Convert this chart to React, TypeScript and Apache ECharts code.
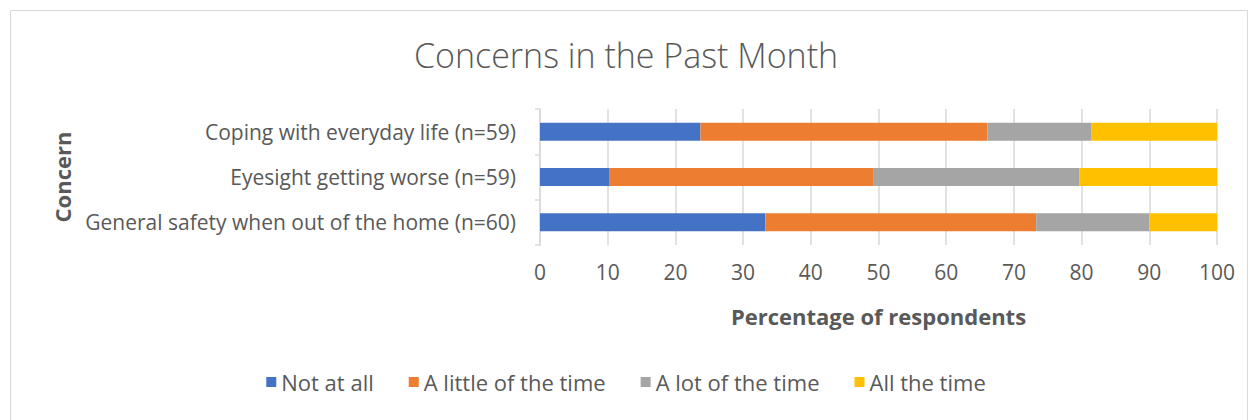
import React, { useEffect, useRef } from "react";
import * as echarts from "echarts";

const categories = [
  "General safety when out of the home (n=60)",
  "Eyesight getting worse (n=59)",
  "Coping with everyday life (n=59)",
];
const seriesNames = ["Not at all", "A little of the time", "A lot of the time", "All the time"];
const notAtAll = [33.3, 10.2, 23.7];
const aLittle = [40.0, 39.0, 42.4];
const aLot = [16.7, 30.5, 15.3];
const allTheTime = [10.0, 20.3, 18.6];
const colors = ["#4472C4", "#ED7D31", "#A5A5A5", "#FFC000"];
const xTicks = { min: 0, max: 100, interval: 10 };

const FONT = "Open Sans";
const TEXT = "#595959";
const LINE = "#d9d9d9";

export default function App() {
  const ref = useRef<HTMLDivElement>(null);
  useEffect(() => {
    if (!ref.current) return;
    const chart = echarts.init(ref.current, undefined, { renderer: "svg" });
    const values = [notAtAll, aLittle, aLot, allTheTime];
    chart.setOption({
      animation: false,
      backgroundColor: "#ffffff",
      textStyle: { fontFamily: FONT, color: TEXT },
      title: {
        text: "Concerns in the Past Month",
        left: "center",
        top: 33,
        textStyle: { fontFamily: FONT, fontSize: 34, fontWeight: 300, color: TEXT },
      },
      graphic: [
        {
          type: "rect",
          shape: { x: 10.5, y: 10.5, width: 1237, height: 420 },
          style: { fill: "none", stroke: LINE, lineWidth: 1 },
          silent: true,
        },
      ],
      legend: {
        bottom: 22,
        left: "center",
        itemWidth: 10,
        itemHeight: 10,
        itemGap: 35,
        icon: "rect",
        textStyle: { fontFamily: FONT, fontSize: 22, color: TEXT },
        data: seriesNames,
      },
      grid: { left: 540, right: 35, top: 109, bottom: 175, containLabel: false },
      xAxis: {
        type: "value",
        min: xTicks.min,
        max: xTicks.max,
        interval: xTicks.interval,
        name: "Percentage of respondents",
        nameLocation: "middle",
        nameGap: 60,
        nameTextStyle: { fontFamily: FONT, fontSize: 22, fontWeight: "bold", color: TEXT },
        axisLine: { show: false },
        axisTick: { show: false },
        axisLabel: { fontFamily: FONT, fontSize: 21, color: TEXT, margin: 16 },
        splitLine: { show: true, lineStyle: { color: LINE, width: 1.5 } },
      },
      yAxis: {
        type: "category",
        data: categories,
        name: "Concern",
        nameLocation: "middle",
        nameGap: 467,
        nameRotate: 90,
        nameTextStyle: { fontFamily: FONT, fontSize: 22, fontWeight: "bold", color: TEXT },
        axisLine: { show: true, lineStyle: { color: LINE, width: 1.5 } },
        axisTick: { show: true, length: 5, lineStyle: { color: LINE, width: 1.5 } },
        axisLabel: { fontFamily: FONT, fontSize: 21, color: TEXT, margin: 24 },
      },
      series: seriesNames.map((name, i) => ({
        name,
        type: "bar",
        stack: "total",
        barWidth: 18,
        data: values[i],
        itemStyle: { color: colors[i] },
      })),
    });
    return () => chart.dispose();
  }, []);
  return (
    <div
      ref={ref}
      style={{ position: "fixed", left: 0, top: 0, width: 1252, height: 420 }}
    />
  );
}
